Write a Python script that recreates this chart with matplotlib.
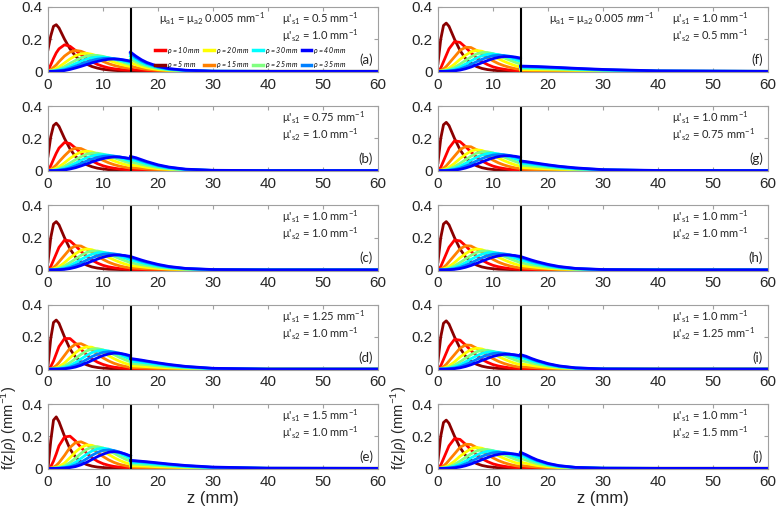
import matplotlib.pyplot as plt
from matplotlib.lines import Line2D

plt.rcParams['font.family'] = ['Liberation Sans', 'DejaVu Sans']
plt.rcParams['mathtext.fontset'] = 'custom'
plt.rcParams['mathtext.rm'] = 'Lato'
plt.rcParams['mathtext.it'] = 'Lato:italic'

rho = [5, 10, 15, 20, 25, 30, 35, 40]
colors = ['#8B0000', '#FF0000', '#FF8000', '#FFFF00', '#80FF80', '#00FFFF', '#0080FF', '#0000FF']

# depth samples (mm) in layer 1 and layer 2
z_top = [0, 0.5, 1, 1.5, 2, 3, 4, 5, 6, 7, 8, 9, 10, 11, 12, 13, 14, 15]
z_bot = [15, 16, 17, 18, 20, 22, 25, 30, 40, 60]

# layer-1 curves, one row per rho
top_05 = [
    [0.135, 0.22, 0.28, 0.29, 0.27, 0.20, 0.14, 0.095, 0.065, 0.045, 0.030, 0.020, 0.013, 0.009, 0.006, 0.004, 0.003, 0.002],
    [0.005, 0.04, 0.08, 0.115, 0.14, 0.165, 0.156, 0.13, 0.103, 0.079, 0.059, 0.043, 0.031, 0.022, 0.016, 0.012, 0.009, 0.007],
    [0, 0.01, 0.025, 0.04, 0.06, 0.095, 0.12, 0.13, 0.125, 0.111, 0.094, 0.077, 0.062, 0.048, 0.037, 0.029, 0.023, 0.018],
    [0, 0.004, 0.01, 0.018, 0.028, 0.052, 0.077, 0.097, 0.109, 0.112, 0.106, 0.095, 0.082, 0.069, 0.057, 0.046, 0.037, 0.030],
    [0, 0.002, 0.005, 0.009, 0.014, 0.03, 0.05, 0.068, 0.084, 0.095, 0.1, 0.099, 0.093, 0.084, 0.074, 0.063, 0.052, 0.042],
    [0, 0.001, 0.002, 0.004, 0.008, 0.018, 0.032, 0.048, 0.063, 0.076, 0.085, 0.089, 0.089, 0.085, 0.078, 0.07, 0.061, 0.052],
    [0, 0, 0.001, 0.002, 0.004, 0.01, 0.02, 0.032, 0.045, 0.057, 0.068, 0.076, 0.08, 0.081, 0.079, 0.075, 0.068, 0.06],
    [0, 0, 0, 0.001, 0.002, 0.005, 0.012, 0.021, 0.031, 0.042, 0.053, 0.062, 0.07, 0.075, 0.077, 0.075, 0.07, 0.064],
]
top_075 = [
    [0.09, 0.21, 0.28, 0.295, 0.275, 0.2, 0.135, 0.088, 0.057, 0.037, 0.024, 0.015, 0.01, 0.006, 0.004, 0.003, 0.002, 0.001],
    [0.002, 0.03, 0.07, 0.108, 0.14, 0.175, 0.168, 0.14, 0.109, 0.082, 0.06, 0.043, 0.03, 0.021, 0.015, 0.01, 0.007, 0.005],
    [0, 0.007, 0.02, 0.035, 0.055, 0.092, 0.125, 0.14, 0.137, 0.121, 0.101, 0.081, 0.064, 0.049, 0.037, 0.028, 0.021, 0.015],
    [0, 0.003, 0.008, 0.015, 0.024, 0.048, 0.076, 0.099, 0.116, 0.121, 0.116, 0.104, 0.089, 0.074, 0.06, 0.048, 0.038, 0.03],
    [0, 0.001, 0.004, 0.007, 0.012, 0.027, 0.047, 0.068, 0.087, 0.102, 0.109, 0.108, 0.102, 0.092, 0.08, 0.068, 0.056, 0.046],
    [0, 0, 0.001, 0.003, 0.006, 0.015, 0.03, 0.046, 0.064, 0.08, 0.091, 0.098, 0.099, 0.096, 0.089, 0.08, 0.07, 0.06],
    [0, 0, 0, 0.001, 0.003, 0.008, 0.017, 0.03, 0.044, 0.059, 0.072, 0.082, 0.089, 0.091, 0.09, 0.086, 0.079, 0.071],
    [0, 0, 0, 0, 0.001, 0.004, 0.01, 0.018, 0.029, 0.041, 0.054, 0.065, 0.075, 0.081, 0.085, 0.084, 0.08, 0.075],
]
top_10 = [
    [0.05, 0.2, 0.285, 0.3, 0.28, 0.2, 0.13, 0.08, 0.05, 0.03, 0.018, 0.011, 0.007, 0.004, 0.003, 0.002, 0.001, 0.001],
    [0, 0.02, 0.06, 0.1, 0.14, 0.185, 0.18, 0.15, 0.115, 0.085, 0.06, 0.042, 0.028, 0.019, 0.013, 0.008, 0.005, 0.003],
    [0, 0.005, 0.015, 0.03, 0.05, 0.09, 0.13, 0.15, 0.148, 0.13, 0.108, 0.085, 0.065, 0.048, 0.035, 0.025, 0.017, 0.012],
    [0, 0.002, 0.006, 0.012, 0.02, 0.045, 0.075, 0.1, 0.122, 0.13, 0.125, 0.112, 0.095, 0.078, 0.062, 0.048, 0.036, 0.027],
    [0, 0.001, 0.003, 0.006, 0.01, 0.025, 0.045, 0.068, 0.09, 0.108, 0.117, 0.117, 0.11, 0.098, 0.084, 0.07, 0.057, 0.045],
    [0, 0, 0.001, 0.002, 0.005, 0.013, 0.027, 0.045, 0.065, 0.083, 0.097, 0.106, 0.108, 0.104, 0.096, 0.085, 0.074, 0.063],
    [0, 0, 0, 0.001, 0.002, 0.007, 0.015, 0.028, 0.043, 0.06, 0.075, 0.088, 0.097, 0.1, 0.099, 0.094, 0.086, 0.077],
    [0, 0, 0, 0, 0.001, 0.003, 0.008, 0.016, 0.027, 0.04, 0.054, 0.067, 0.079, 0.087, 0.092, 0.092, 0.089, 0.083],
]
top_125 = [
    [0.02, 0.19, 0.29, 0.305, 0.285, 0.2, 0.125, 0.075, 0.045, 0.027, 0.016, 0.01, 0.006, 0.004, 0.002, 0.001, 0.001, 0],
    [0, 0.015, 0.05, 0.095, 0.14, 0.19, 0.19, 0.16, 0.123, 0.09, 0.063, 0.043, 0.029, 0.019, 0.012, 0.008, 0.005, 0.003],
    [0, 0.003, 0.01, 0.022, 0.04, 0.085, 0.13, 0.155, 0.158, 0.142, 0.118, 0.093, 0.07, 0.051, 0.036, 0.025, 0.017, 0.011],
    [0, 0.001, 0.004, 0.008, 0.015, 0.038, 0.07, 0.102, 0.127, 0.138, 0.136, 0.122, 0.103, 0.083, 0.065, 0.049, 0.036, 0.026],
    [0, 0, 0.002, 0.004, 0.007, 0.02, 0.04, 0.066, 0.092, 0.113, 0.125, 0.127, 0.12, 0.106, 0.09, 0.073, 0.058, 0.045],
    [0, 0, 0, 0.001, 0.003, 0.01, 0.022, 0.041, 0.063, 0.085, 0.103, 0.114, 0.117, 0.113, 0.103, 0.09, 0.076, 0.062],
    [0, 0, 0, 0, 0.001, 0.005, 0.012, 0.024, 0.04, 0.059, 0.078, 0.093, 0.104, 0.108, 0.106, 0.099, 0.089, 0.077],
    [0, 0, 0, 0, 0, 0.002, 0.006, 0.013, 0.024, 0.038, 0.054, 0.07, 0.084, 0.094, 0.099, 0.098, 0.092, 0.083],
]
top_15 = [
    [0, 0.17, 0.3, 0.32, 0.29, 0.2, 0.12, 0.07, 0.04, 0.024, 0.014, 0.008, 0.005, 0.003, 0.002, 0.001, 0.001, 0],
    [0, 0.01, 0.045, 0.09, 0.14, 0.195, 0.2, 0.17, 0.13, 0.095, 0.066, 0.044, 0.029, 0.019, 0.012, 0.008, 0.005, 0.003],
    [0, 0.002, 0.008, 0.018, 0.035, 0.08, 0.13, 0.16, 0.165, 0.15, 0.125, 0.098, 0.074, 0.053, 0.037, 0.025, 0.017, 0.011],
    [0, 0.001, 0.003, 0.006, 0.012, 0.033, 0.066, 0.102, 0.13, 0.145, 0.143, 0.13, 0.109, 0.087, 0.067, 0.05, 0.036, 0.025],
    [0, 0, 0.001, 0.003, 0.005, 0.016, 0.036, 0.063, 0.093, 0.118, 0.132, 0.135, 0.127, 0.112, 0.094, 0.075, 0.058, 0.044],
    [0, 0, 0, 0.001, 0.002, 0.008, 0.019, 0.038, 0.062, 0.087, 0.108, 0.121, 0.125, 0.12, 0.108, 0.093, 0.077, 0.061],
    [0, 0, 0, 0, 0.001, 0.004, 0.01, 0.021, 0.038, 0.059, 0.081, 0.099, 0.111, 0.115, 0.111, 0.101, 0.088, 0.074],
    [0, 0, 0, 0, 0, 0.002, 0.005, 0.011, 0.022, 0.037, 0.055, 0.073, 0.088, 0.1, 0.104, 0.1, 0.09, 0.077],
]

# layer-2 curves per panel, one row per rho
tail_a = [
    [0.004, 0.003, 0.002, 0.001, 0, 0, 0, 0, 0, 0],
    [0.013, 0.009, 0.007, 0.005, 0.002, 0.001, 0, 0, 0, 0],
    [0.033, 0.024, 0.017, 0.012, 0.006, 0.003, 0.001, 0, 0, 0],
    [0.055, 0.041, 0.03, 0.022, 0.011, 0.006, 0.002, 0, 0, 0],
    [0.077, 0.058, 0.043, 0.032, 0.017, 0.009, 0.003, 0, 0, 0],
    [0.095, 0.073, 0.055, 0.041, 0.022, 0.012, 0.005, 0.001, 0, 0],
    [0.11, 0.085, 0.065, 0.049, 0.027, 0.015, 0.006, 0.001, 0, 0],
    [0.12, 0.094, 0.072, 0.055, 0.031, 0.017, 0.007, 0.001, 0, 0],
]
tail_b = [
    [0.002, 0.001, 0.001, 0, 0, 0, 0, 0, 0, 0],
    [0.007, 0.006, 0.005, 0.004, 0.002, 0.001, 0, 0, 0, 0],
    [0.019, 0.016, 0.013, 0.01, 0.006, 0.003, 0.001, 0, 0, 0],
    [0.036, 0.031, 0.026, 0.02, 0.012, 0.007, 0.002, 0, 0, 0],
    [0.054, 0.047, 0.039, 0.031, 0.019, 0.011, 0.004, 0, 0, 0],
    [0.07, 0.062, 0.052, 0.042, 0.026, 0.015, 0.006, 0.001, 0, 0],
    [0.083, 0.074, 0.062, 0.051, 0.032, 0.019, 0.008, 0.001, 0, 0],
    [0.088, 0.08, 0.068, 0.056, 0.036, 0.022, 0.009, 0.002, 0, 0],
]
tail_c = [
    [0.001, 0, 0, 0, 0, 0, 0, 0, 0, 0],
    [0.003, 0.002, 0.002, 0.001, 0.001, 0, 0, 0, 0, 0],
    [0.012, 0.01, 0.008, 0.006, 0.004, 0.002, 0.001, 0, 0, 0],
    [0.027, 0.023, 0.019, 0.015, 0.009, 0.005, 0.002, 0, 0, 0],
    [0.045, 0.038, 0.032, 0.026, 0.016, 0.01, 0.004, 0, 0, 0],
    [0.063, 0.054, 0.045, 0.037, 0.024, 0.014, 0.006, 0.001, 0, 0],
    [0.077, 0.066, 0.055, 0.046, 0.03, 0.018, 0.008, 0.001, 0, 0],
    [0.083, 0.072, 0.061, 0.051, 0.034, 0.021, 0.009, 0.002, 0, 0],
]
tail_d = [
    [0, 0, 0, 0, 0, 0, 0, 0, 0, 0],
    [0.002, 0.002, 0.002, 0.001, 0.001, 0, 0, 0, 0, 0],
    [0.009, 0.008, 0.007, 0.006, 0.004, 0.003, 0.001, 0, 0, 0],
    [0.021, 0.019, 0.017, 0.015, 0.011, 0.008, 0.004, 0.001, 0, 0],
    [0.036, 0.033, 0.03, 0.027, 0.02, 0.014, 0.008, 0.002, 0, 0],
    [0.05, 0.046, 0.042, 0.038, 0.029, 0.021, 0.012, 0.003, 0, 0],
    [0.062, 0.057, 0.052, 0.047, 0.036, 0.026, 0.015, 0.004, 0, 0],
    [0.066, 0.061, 0.056, 0.05, 0.039, 0.029, 0.017, 0.005, 0, 0],
]
tail_e = [
    [0, 0, 0, 0, 0, 0, 0, 0, 0, 0],
    [0.002, 0.002, 0.001, 0.001, 0.001, 0, 0, 0, 0, 0],
    [0.007, 0.006, 0.006, 0.005, 0.004, 0.003, 0.002, 0, 0, 0],
    [0.016, 0.015, 0.014, 0.013, 0.01, 0.008, 0.005, 0.002, 0, 0],
    [0.028, 0.026, 0.024, 0.022, 0.018, 0.014, 0.009, 0.003, 0, 0],
    [0.039, 0.036, 0.034, 0.031, 0.025, 0.02, 0.013, 0.005, 0, 0],
    [0.047, 0.044, 0.041, 0.038, 0.031, 0.024, 0.016, 0.006, 0.001, 0],
    [0.05, 0.047, 0.044, 0.041, 0.034, 0.027, 0.018, 0.008, 0.001, 0],
]
tail_f = [
    [0, 0, 0, 0, 0, 0, 0, 0, 0, 0],
    [0.001, 0.001, 0.001, 0.001, 0.001, 0, 0, 0, 0, 0],
    [0.005, 0.005, 0.005, 0.004, 0.004, 0.003, 0.002, 0.001, 0, 0],
    [0.011, 0.011, 0.01, 0.01, 0.009, 0.008, 0.006, 0.003, 0, 0],
    [0.018, 0.018, 0.017, 0.017, 0.015, 0.013, 0.01, 0.006, 0.001, 0],
    [0.025, 0.024, 0.024, 0.023, 0.021, 0.018, 0.014, 0.008, 0.002, 0],
    [0.03, 0.029, 0.028, 0.027, 0.025, 0.022, 0.017, 0.01, 0.002, 0],
    [0.033, 0.032, 0.031, 0.03, 0.027, 0.024, 0.019, 0.012, 0.003, 0],
]
tail_g = [
    [0, 0, 0, 0, 0, 0, 0, 0, 0, 0],
    [0.002, 0.002, 0.002, 0.001, 0.001, 0, 0, 0, 0, 0],
    [0.009, 0.008, 0.007, 0.006, 0.004, 0.003, 0.001, 0, 0, 0],
    [0.02, 0.018, 0.016, 0.014, 0.011, 0.008, 0.005, 0.001, 0, 0],
    [0.034, 0.031, 0.028, 0.025, 0.019, 0.014, 0.008, 0.002, 0, 0],
    [0.047, 0.043, 0.039, 0.035, 0.027, 0.02, 0.012, 0.004, 0, 0],
    [0.056, 0.052, 0.047, 0.042, 0.033, 0.025, 0.015, 0.005, 0, 0],
    [0.06, 0.056, 0.051, 0.046, 0.036, 0.027, 0.017, 0.006, 0.001, 0],
]
tail_i = [
    [0.001, 0, 0, 0, 0, 0, 0, 0, 0, 0],
    [0.004, 0.003, 0.002, 0.002, 0.001, 0, 0, 0, 0, 0],
    [0.015, 0.013, 0.01, 0.008, 0.004, 0.002, 0.001, 0, 0, 0],
    [0.033, 0.028, 0.023, 0.018, 0.011, 0.006, 0.002, 0, 0, 0],
    [0.054, 0.046, 0.038, 0.031, 0.019, 0.011, 0.004, 0, 0, 0],
    [0.073, 0.063, 0.052, 0.042, 0.026, 0.015, 0.006, 0.001, 0, 0],
    [0.086, 0.075, 0.062, 0.05, 0.031, 0.018, 0.007, 0.001, 0, 0],
    [0.09, 0.08, 0.066, 0.054, 0.034, 0.02, 0.008, 0.001, 0, 0],
]
tail_j = [
    [0.001, 0, 0, 0, 0, 0, 0, 0, 0, 0],
    [0.005, 0.004, 0.003, 0.002, 0.001, 0, 0, 0, 0, 0],
    [0.018, 0.014, 0.011, 0.008, 0.004, 0.002, 0.001, 0, 0, 0],
    [0.039, 0.031, 0.024, 0.018, 0.01, 0.005, 0.002, 0, 0, 0],
    [0.063, 0.051, 0.039, 0.03, 0.017, 0.009, 0.003, 0, 0, 0],
    [0.083, 0.068, 0.053, 0.041, 0.023, 0.013, 0.005, 0.001, 0, 0],
    [0.096, 0.08, 0.063, 0.049, 0.028, 0.015, 0.006, 0.001, 0, 0],
    [0.1, 0.085, 0.068, 0.053, 0.031, 0.017, 0.006, 0.001, 0, 0],
]

mus1 = ['0.5', '0.75', '1.0', '1.25', '1.5', '1.0', '1.0', '1.0', '1.0', '1.0']
mus2 = ['1.0', '1.0', '1.0', '1.0', '1.0', '0.5', '0.75', '1.0', '1.25', '1.5']
labels = ['(a)', '(b)', '(c)', '(d)', '(e)', '(f)', '(g)', '(h)', '(i)', '(j)']
tops = [top_05, top_075, top_10, top_125, top_15, top_10, top_10, top_10, top_10, top_10]
tails = [tail_a, tail_b, tail_c, tail_d, tail_e, tail_f, tail_g, tail_c, tail_i, tail_j]

fig = plt.figure(figsize=(7.8, 5.17), dpi=100)
W, H = 780, 517
box = '#A0A0A0'
txt = '#262626'

axes = []
for k in range(10):
    col, row = k // 5, k % 5
    left = 48 if col == 0 else 438
    bottom = 72 + 99.25 * row
    ax = fig.add_axes([left / W, 1 - bottom / H, 330 / W, 65 / H])
    axes.append(ax)

    for i in range(8):
        ax.plot(z_top, tops[k][i], color=colors[i], lw=2, solid_joinstyle='round')
        ax.plot(z_bot, tails[k][i], color=colors[i], lw=2, solid_joinstyle='round')
    ax.axvline(15, color='black', lw=1.5)

    ax.set_xlim(0, 60)
    ax.set_ylim(-0.004, 0.4)
    ax.set_xticks([0, 10, 20, 30, 40, 50, 60])
    ax.set_yticks([0, 0.2, 0.4])
    ax.set_yticklabels(['0', '0.2', '0.4'])
    ax.tick_params(direction='in', length=3, color=box, labelcolor=txt, labelsize=11, pad=4,
                   top=True, right=True)
    for s in ax.spines.values():
        s.set_color(box)
        s.set_linewidth(0.8)

    ax.text(0.71, 0.82, "μ'$_{\\mathrm{s1}}$ = " + mus1[k] + " mm$^{\\mathrm{-1}}$",
            transform=ax.transAxes, fontsize=8, family='Lato', color=txt, va='center')
    ax.text(0.71, 0.56, "μ'$_{\\mathrm{s2}}$ = " + mus2[k] + " mm$^{\\mathrm{-1}}$",
            transform=ax.transAxes, fontsize=8, family='Lato', color=txt, va='center')
    ax.text(0.985, 0.19, labels[k], transform=ax.transAxes, fontsize=9.5, family='Lato',
            color=txt, ha='right', va='center')

    if row == 4:
        ax.set_xlabel('z (mm)', fontsize=12, color=txt, labelpad=2)
        fig.text((left - 39) / W, 1 - 428 / H, 'f(z|$\\rho$) (mm$^{-1}$)', rotation=90,
                 fontsize=10.5, color=txt, ha='center', va='center')

axes[0].text(0.335, 0.82, "μ$_{\\mathrm{a1}}$ = μ$_{\\mathrm{a2}}$ 0.005 mm$^{\\mathrm{-1}}$",
             transform=axes[0].transAxes, fontsize=8, family='Lato', color=txt, va='center')
axes[5].text(0.335, 0.82, "μ$_{\\mathrm{a1}}$ = μ$_{\\mathrm{a2}}$ 0.005 $\\mathit{mm}^{\\mathrm{-1}}$",
             transform=axes[5].transAxes, fontsize=8, family='Lato', color=txt, va='center')

# legend in panel (a), ordered as in the original
order = [1, 0, 3, 2, 5, 4, 7, 6]
handles = [Line2D([], [], color=colors[i], lw=2.5) for i in order]
names = ['$\\rho$ = %d mm' % rho[i] for i in order]
axes[0].legend(handles, names, ncol=4, loc='upper left', bbox_to_anchor=(0.315, 0.47),
               frameon=False, handlelength=1.4, handletextpad=0.3, columnspacing=0.5,
               labelspacing=0.45, borderpad=0, prop={'size': 5, 'style': 'italic', 'family': 'Lato'})

fig.savefig('out.png', dpi=100)
